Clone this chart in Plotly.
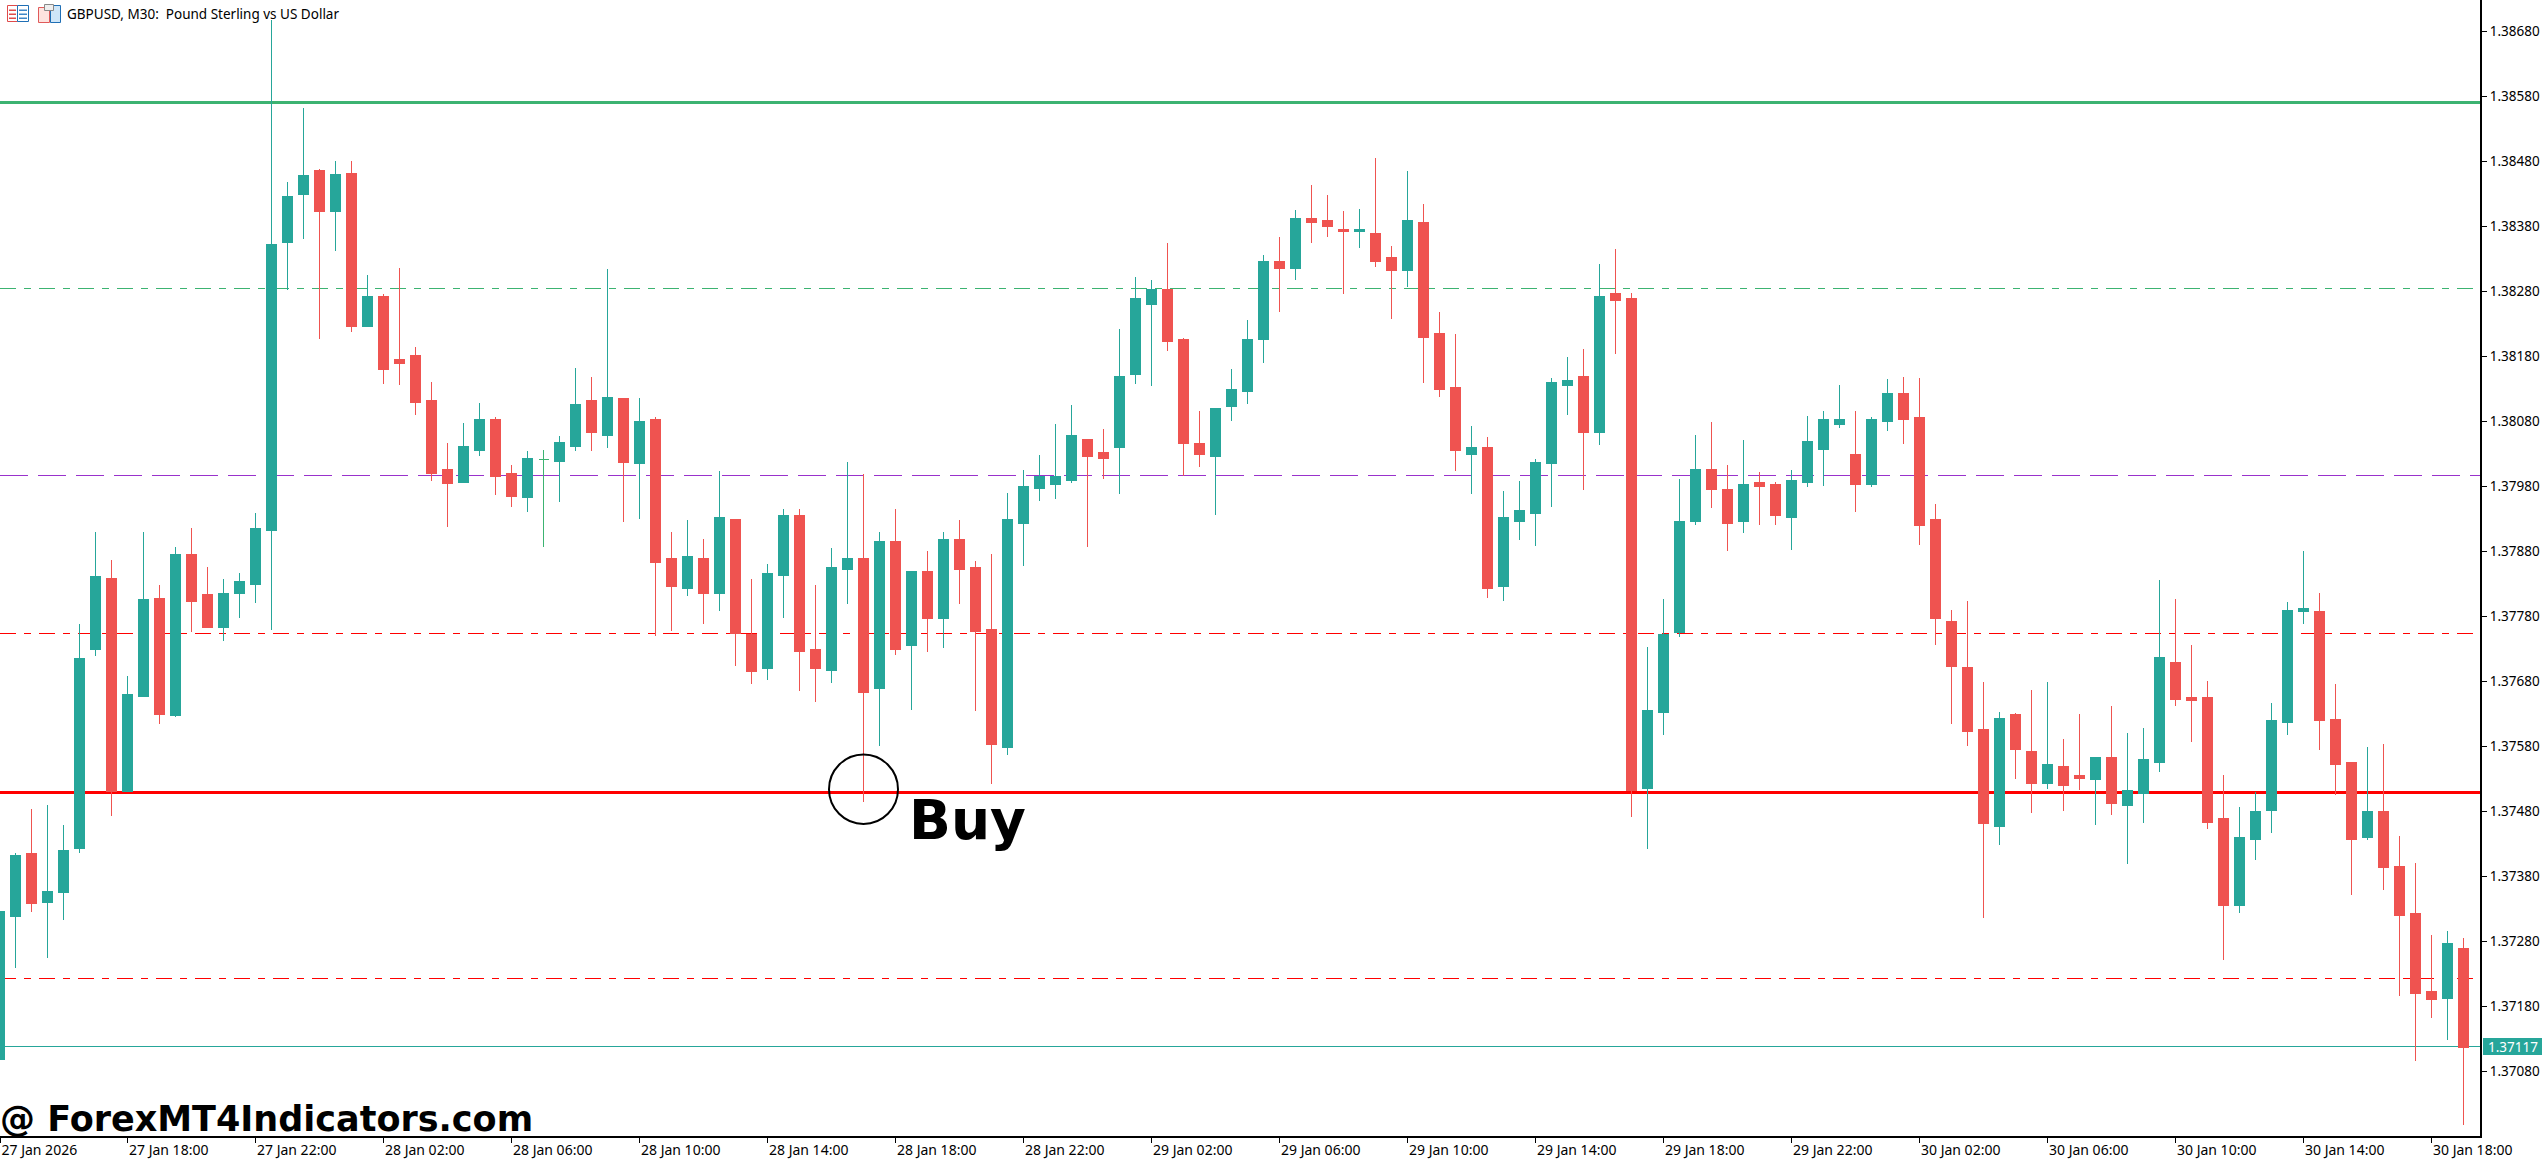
import plotly.graph_objects as go

W, H = 2544, 1161
PLOT_W, PLOT_H = 2480, 1136

opens = [1.37098,1.37318,1.37415,1.37339,1.37354,1.37422,1.37728,1.37838,1.37510,1.37657,
1.37807,1.37627,1.37875,1.37813,1.37763,1.37815,1.37829,1.37912,1.38354,1.38429,
1.38466,1.38402,1.38461,1.38225,1.38271,1.38174,1.38181,1.38112,1.38006,1.37986,
1.38035,1.38082,1.38000,1.37963,1.38021,1.38018,1.38041,1.38111,1.38058,1.38115,
1.38015,1.38082,1.37869,1.37823,1.37869,1.37815,1.37928,1.37751,1.37699,1.37842,
1.37935,1.37728,1.37697,1.37852,1.37869,1.37669,1.37895,1.37734,1.37848,1.37777,
1.37898,1.37855,1.37760,1.37578,1.37923,1.37977,1.37982,1.37988,1.38052,1.38031,
1.38040,1.38152,1.38259,1.38282,1.38205,1.38045,1.38026,1.38102,1.38125,1.38205,
1.38325,1.38315,1.38391,1.38389,1.38375,1.38371,1.38369,1.38331,1.38311,1.38385,
1.38215,1.38131,1.38029,1.38039,1.37826,1.37926,1.37938,1.38014,1.38135,1.38148,
1.38063,1.38277,1.38269,1.37514,1.37632,1.37755,1.37926,1.38006,1.37974,1.37925,
1.37985,1.37982,1.37932,1.37985,1.38037,1.38074,1.38029,1.37982,1.38079,1.38122,
1.38085,1.37928,1.37772,1.37701,1.37606,1.37456,1.37628,1.37572,1.37523,1.37549,
1.37534,1.37528,1.37562,1.37489,1.37507,1.37555,1.37709,1.37655,1.37654,1.37468,
1.37334,1.37437,1.37481,1.37617,1.37787,1.37787,1.37621,1.37555,1.37440,1.37480,
1.37395,1.37322,1.37202,1.37192,1.37269]

highs = [1.37335,1.37416,1.37483,1.37490,1.37459,1.37768,1.37909,1.37866,1.37688,1.37910,
1.37828,1.37886,1.37915,1.37855,1.37837,1.37846,1.37939,1.38697,1.38448,1.38561,
1.38468,1.38480,1.38480,1.38305,1.38275,1.38315,1.38194,1.38140,1.38046,1.38077,
1.38108,1.38086,1.38012,1.38034,1.38035,1.38057,1.38161,1.38148,1.38314,1.38115,
1.38115,1.38086,1.37909,1.37928,1.37898,1.38003,1.37928,1.37837,1.37860,1.37945,
1.37945,1.37828,1.37885,1.38017,1.37999,1.37909,1.37945,1.37848,1.37880,1.37909,
1.37928,1.37865,1.37875,1.37969,1.38005,1.38028,1.38075,1.38105,1.38052,1.38068,
1.38222,1.38302,1.38297,1.38354,1.38208,1.38095,1.38099,1.38160,1.38235,1.38335,
1.38363,1.38405,1.38443,1.38428,1.38403,1.38406,1.38485,1.38349,1.38465,1.38414,
1.38248,1.38214,1.38072,1.38055,1.37972,1.37988,1.38022,1.38146,1.38179,1.38191,
1.38322,1.38345,1.38277,1.37732,1.37806,1.37991,1.38058,1.38079,1.38012,1.38051,
1.38002,1.37986,1.38005,1.38088,1.38095,1.38135,1.38095,1.38086,1.38145,1.38148,
1.38146,1.37953,1.37789,1.37803,1.37679,1.37633,1.37631,1.37667,1.37679,1.37591,
1.37630,1.37563,1.37642,1.37600,1.37608,1.37836,1.37806,1.37735,1.37680,1.37535,
1.37486,1.37509,1.37646,1.37802,1.37880,1.37816,1.37675,1.37555,1.37579,1.37583,
1.37442,1.37400,1.37290,1.37295,1.37285]

lows = [1.37095,1.37239,1.37325,1.37254,1.37312,1.37415,1.37719,1.37473,1.37510,1.37655,
1.37614,1.37624,1.37756,1.37762,1.37741,1.37777,1.37800,1.37758,1.38281,1.38360,
1.38206,1.38341,1.38217,1.38225,1.38137,1.38135,1.38089,1.37988,1.37917,1.37986,
1.38026,1.37966,1.37948,1.37940,1.37886,1.37955,1.38034,1.38034,1.38038,1.37925,
1.37929,1.37750,1.37757,1.37811,1.37768,1.37788,1.37703,1.37675,1.37682,1.37777,
1.37665,1.37648,1.37677,1.37798,1.37494,1.37580,1.37720,1.37635,1.37725,1.37731,
1.37798,1.37634,1.37522,1.37566,1.37857,1.37957,1.37960,1.37985,1.37886,1.37991,
1.37968,1.38137,1.38134,1.38188,1.37996,1.38009,1.37935,1.38080,1.38106,1.38169,
1.38248,1.38297,1.38354,1.38363,1.38275,1.38346,1.38317,1.38237,1.38286,1.38139,
1.38117,1.38003,1.37968,1.37808,1.37803,1.37897,1.37888,1.37948,1.38089,1.37974,
1.38043,1.38183,1.37471,1.37422,1.37597,1.37748,1.37920,1.37946,1.37880,1.37908,
1.37920,1.37920,1.37882,1.37979,1.37980,1.38069,1.37940,1.37979,1.38065,1.38045,
1.37889,1.37736,1.37614,1.37580,1.37315,1.37428,1.37530,1.37477,1.37514,1.37480,
1.37513,1.37459,1.37474,1.37399,1.37462,1.37540,1.37642,1.37586,1.37452,1.37251,
1.37323,1.37405,1.37446,1.37597,1.37768,1.37574,1.37505,1.37351,1.37435,1.37359,
1.37195,1.37095,1.37161,1.37128,1.36997]

closes = [1.37326,1.37411,1.37338,1.37357,1.37420,1.37715,1.37841,1.37510,1.37659,1.37806,
1.37629,1.37875,1.37803,1.37763,1.37815,1.37833,1.37915,1.38352,1.38426,1.38458,
1.38402,1.38460,1.38225,1.38272,1.38159,1.38169,1.38108,1.37999,1.37984,1.38041,
1.38083,1.37995,1.37964,1.38023,1.38021,1.38047,1.38106,1.38063,1.38117,1.38017,
1.38079,1.37863,1.37826,1.37871,1.37815,1.37932,1.37753,1.37694,1.37845,1.37935,
1.37725,1.37699,1.37854,1.37868,1.37663,1.37895,1.37729,1.37848,1.37777,1.37898,
1.37852,1.37757,1.37583,1.37929,1.37979,1.37994,1.37995,1.38058,1.38025,1.38022,
1.38148,1.38268,1.38282,1.38203,1.38046,1.38028,1.38099,1.38129,1.38205,1.38325,
1.38314,1.38392,1.38385,1.38379,1.38372,1.38375,1.38326,1.38312,1.38388,1.38209,
1.38128,1.38035,1.38039,1.37823,1.37932,1.37942,1.38017,1.38139,1.38143,1.38062,
1.38271,1.38265,1.37512,1.37635,1.37752,1.37925,1.38005,1.37974,1.37923,1.37983,
1.37979,1.37934,1.37988,1.38048,1.38082,1.38082,1.37982,1.38082,1.38123,1.38082,
1.37920,1.37776,1.37702,1.37603,1.37461,1.37623,1.37574,1.37523,1.37551,1.37520,
1.37530,1.37563,1.37491,1.37511,1.37560,1.37716,1.37652,1.37650,1.37463,1.37335,
1.37440,1.37480,1.37620,1.37789,1.37792,1.37620,1.37551,1.37437,1.37480,1.37393,
1.37319,1.37199,1.37190,1.37277,1.37117]

level_solid_green = 1.385701
level_dash_green = 1.382840
level_dash_purple = 1.379963
level_dash_red_upper = 1.377532
level_solid_red = 1.375086
level_dash_red_lower = 1.372224
last_price = 1.371178

y_ticks = [1.38680,1.38580,1.38480,1.38380,1.38280,1.38180,1.38080,1.37980,1.37880,
           1.37780,1.37680,1.37580,1.37480,1.37380,1.37280,1.37180,1.37080]
y_tick_labels = ["%.5f" % v for v in y_ticks]

x_ticks = [0.03125,8,16,24,32,40,48,56,64,72,80,88,96,104,112,120,128,136,144,152]
x_tick_labels = ["27 Jan 2026","27 Jan 18:00","27 Jan 22:00","28 Jan 02:00","28 Jan 06:00",
                 "28 Jan 10:00","28 Jan 14:00","28 Jan 18:00","28 Jan 22:00","29 Jan 02:00",
                 "29 Jan 06:00","29 Jan 10:00","29 Jan 14:00","29 Jan 18:00","29 Jan 22:00",
                 "30 Jan 02:00","30 Jan 06:00","30 Jan 10:00","30 Jan 14:00","30 Jan 18:00"]

GREEN, RED, SEA = "#26a69a", "#ef5350", "#3cb371"
FONT = "Noto Sans"

idx = [i for i in range(len(opens)) if opens[i] != closes[i]]
doji = [i for i in range(len(opens)) if opens[i] == closes[i]]

fig = go.Figure()
fig.add_trace(go.Candlestick(
    x=idx,
    open=[opens[i] for i in idx], high=[highs[i] for i in idx],
    low=[lows[i] for i in idx], close=[closes[i] for i in idx],
    increasing=dict(line=dict(color=GREEN, width=1), fillcolor=GREEN),
    decreasing=dict(line=dict(color=RED, width=1), fillcolor=RED),
    whiskerwidth=0, showlegend=False, hoverinfo="skip",
))
fig.add_trace(go.Candlestick(
    x=doji,
    open=[opens[i] for i in doji], high=[highs[i] for i in doji],
    low=[lows[i] for i in doji], close=[closes[i] for i in doji],
    increasing=dict(line=dict(color=SEA, width=1), fillcolor=SEA),
    decreasing=dict(line=dict(color=SEA, width=1), fillcolor=SEA),
    whiskerwidth=0, showlegend=False, hoverinfo="skip",
))

def hline(v, color, width, dash="solid"):
    fig.add_shape(type="line", layer="below", xref="paper", x0=0, x1=1, yref="y", y0=v, y1=v,
                  line=dict(color=color, width=width, dash=dash))

DASHDOT = "16px,8px,7px,8px"
hline(level_solid_green, SEA, 3)
hline(level_dash_green, SEA, 1, DASHDOT)
hline(level_dash_purple, "#9932cc", 1, "28px,10px")
hline(level_dash_red_upper, "#ff0000", 1, DASHDOT)
hline(level_solid_red, "#ff0000", 3)
hline(level_dash_red_lower, "#ff0000", 1, DASHDOT)
hline(last_price, GREEN, 1)

def px(x): return x / PLOT_W
def py(y): return 1 - y / PLOT_H

def rect(x0, y0, x1, y1, line=None, fill="rgba(0,0,0,0)", lw=1):
    fig.add_shape(type="rect", xref="paper", yref="paper", x0=px(x0), x1=px(x1), y0=py(y0), y1=py(y1),
                  line=dict(color=line or fill, width=lw), fillcolor=fill)

# title-bar icons
rect(7.5, 5.5, 17.5, 21.5, "#e04a4a", "#ffffff", 1)
rect(17.5, 5.5, 28.5, 21.5, "#1f6fb5", "#ffffff", 1)
for y in (9.5, 13.5, 17.5):
    rect(9, y, 16, y + 1.5, None, "#e04a4a", 0)
    rect(19, y, 27, y + 1.5, None, "#3f87c7", 0)
rect(38.5, 7.5, 49.5, 22.5, "#e05a5a", "#fde3df", 1)
rect(50.5, 5.5, 60.5, 22.5, "#1f6fb5", "#cfe6f8", 1)
rect(44.5, 4.5, 53.5, 10.5, "#888888", "#eeeeee", 1)

# marker circle around the wick
fig.add_shape(type="circle", xref="paper", yref="paper", layer="above",
              x0=px(829), x1=px(898), y0=py(754.5), y1=py(824),
              line=dict(color="#000000", width=2))

def note(x, y, text, size, family=FONT, color="#000000", xanchor="left", **kw):
    fig.add_annotation(xref="paper", yref="paper", x=px(x), y=py(y), text=text, showarrow=False,
                       xanchor=xanchor, yanchor="middle", align="left",
                       font=dict(family=family, size=size, color=color),
                       borderpad=0, borderwidth=0, **kw)

note(67, 14, "GBPUSD, M30:  Pound Sterling vs US Dollar", 13.5)
note(909, 820, "<b>Buy</b>", 55, "DejaVu Sans")
note(0, 1119, "<b>@ ForexMT4Indicators.com</b>", 35, "DejaVu Sans")

# last price tag
rect(2483, 1038, 2542, 1055, None, GREEN, 0)
fig.add_annotation(xref="paper", yref="paper", x=px(2512.5), y=py(1047), text="1.37117", showarrow=False,
                   xanchor="center", yanchor="middle", font=dict(family=FONT, size=13.5, color="#ffffff"))

fig.update_layout(
    width=W, height=H, autosize=False,
    margin=dict(l=0, r=W - PLOT_W, t=0, b=H - PLOT_H, pad=0),
    paper_bgcolor="#ffffff", plot_bgcolor="#ffffff",
    boxmode="overlay", boxgap=0.375, boxgroupgap=0, showlegend=False, hovermode=False,
    xaxis=dict(type="linear", range=[0.03125, 155.03125], rangeslider=dict(visible=False), showgrid=False, zeroline=False,
               tickmode="array", tickvals=x_ticks, ticktext=x_tick_labels,
               ticklabelposition="outside right", ticks="outside", ticklen=5, tickwidth=1, tickcolor="#000000",
               showline=True, linecolor="#000000", linewidth=2,
               tickfont=dict(family=FONT, size=14, color="#000000")),
    yaxis=dict(side="right", range=[1.369801, 1.387278], showgrid=False, zeroline=False,
               tickmode="array", tickvals=y_ticks, ticktext=y_tick_labels,
               ticks="outside", ticklen=5, tickwidth=1, tickcolor="#000000",
               showline=True, linecolor="#000000", linewidth=2,
               tickfont=dict(family=FONT, size=13.5, color="#000000")),
)
POST = """
document.body.style.margin='0';
document.body.style.overflow='hidden';
var st=document.createElement('style');
st.textContent='.layer-below .shapelayer path,.boxlayer path{shape-rendering:crispEdges !important;}';
document.head.appendChild(st);
"""
fig.write_html("out.html", config=dict(displayModeBar=False), post_script=POST)
